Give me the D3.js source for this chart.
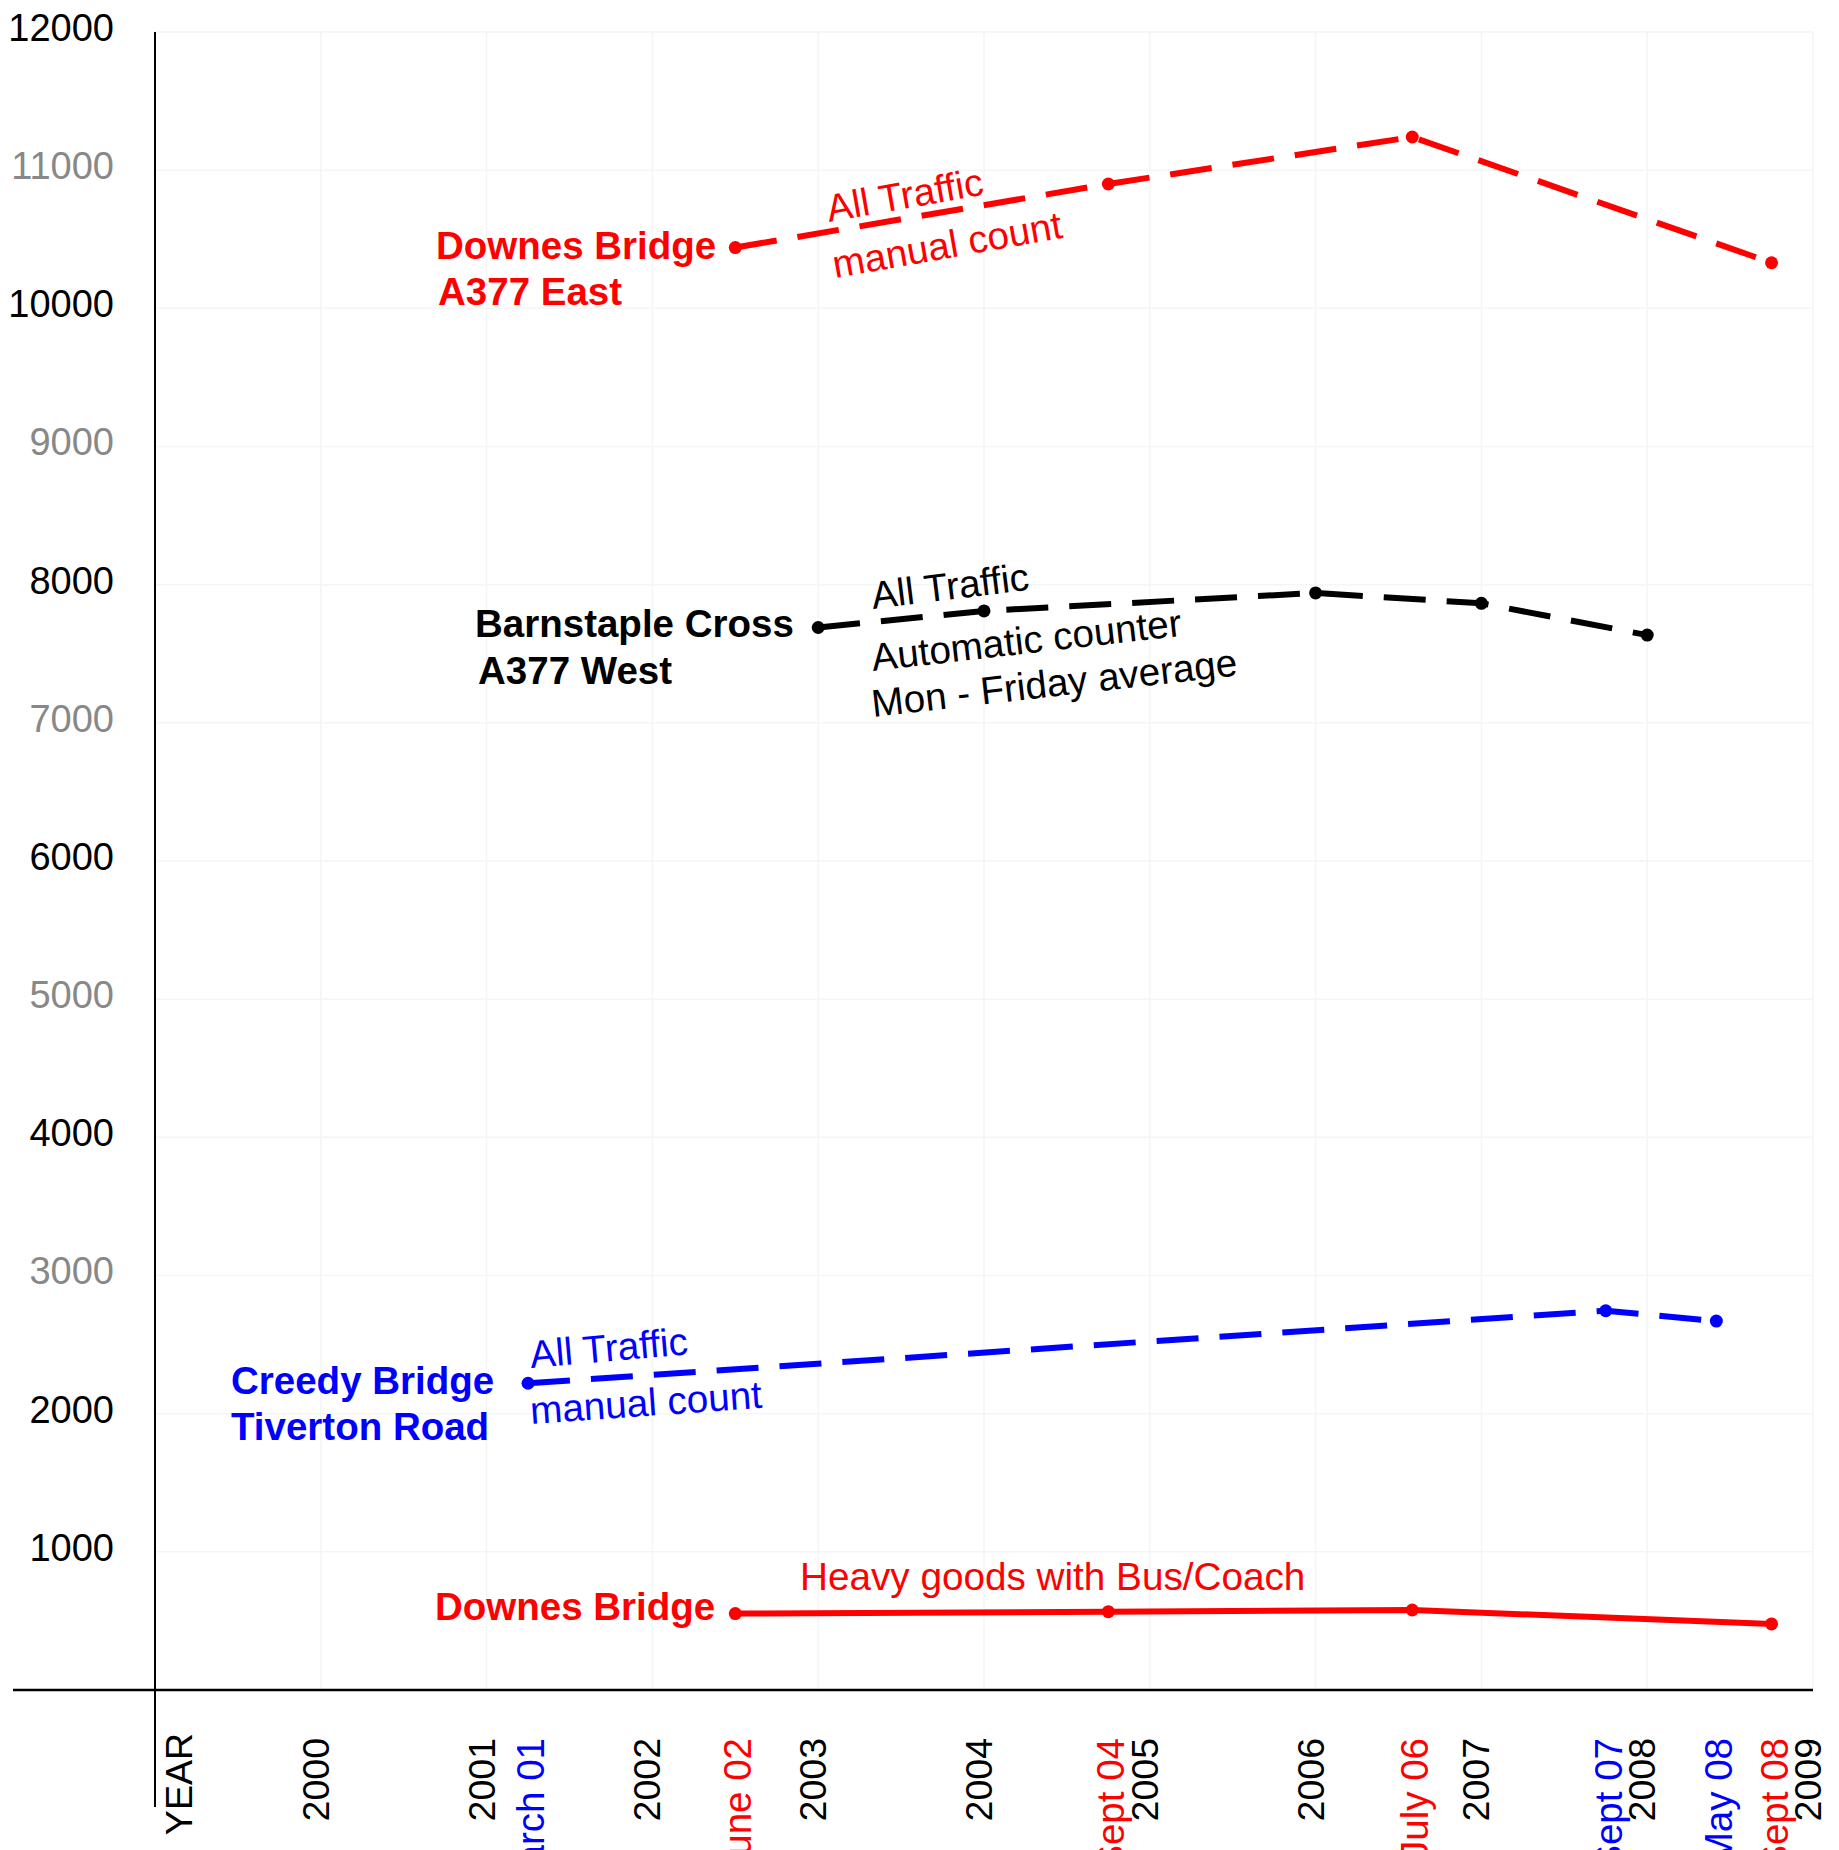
<!DOCTYPE html>
<html>
<head>
<meta charset="utf-8">
<script src="https://cdn.jsdelivr.net/npm/d3@7"></script>
<style>
html,body{margin:0;padding:0;background:#fff;overflow:hidden;}
text{font-family:Arial,"Liberation Sans",Helvetica,sans-serif;}
</style>
</head>
<body>
<svg id="chart" width="1839" height="1850"></svg>
<script>
// ---- data ----
const yearTicks = [2000, 2001, 2002, 2003, 2004, 2005, 2006, 2007, 2008, 2009];
const valueTicks = [1000, 2000, 3000, 4000, 5000, 6000, 7000, 8000, 9000, 10000, 11000, 12000];
const grayValueTicks = [3000, 5000, 7000, 9000, 11000];

// fractional year = year + month/12
const downesAllDates = [2002.5, 2004.75, 2006.583, 2008.75];
const downesAllValues = [10440, 10900, 11240, 10330];

const barnstapleDates = [2003, 2004, 2006, 2007, 2008];
const barnstapleValues = [7690, 7810, 7940, 7865, 7635];

const creedyDates = [2001.25, 2007.75, 2008.417];
const creedyValues = [2220, 2745, 2670];

const downesHeavyDates = [2002.5, 2004.75, 2006.583, 2008.75];
const downesHeavyValues = [553, 567, 579, 478];

const monthLabels = ["March 01", "June 02", "Sept 04", "July 06", "Sept 07", "May 08", "Sept 08"];
const monthDates = [2001.25, 2002.5, 2004.75, 2006.583, 2007.75, 2008.417, 2008.75];
const monthSeries = ["creedy", "downes", "downes", "downes", "creedy", "creedy", "downes"];

// ---- styles ----
const RED = "#ff0000", BLUE = "#0000ff", BLACK = "#000000";
const seriesColor = {downes: RED, creedy: BLUE, barnstaple: BLACK};

const svg = d3.select("#chart");
const x = d3.scaleLinear().domain([1999, 2009]).range([155, 1813]);
const y = d3.scaleLinear().domain([0, 12000]).range([1690, 32]);

// gridlines
const grid = svg.append("g");
grid.selectAll("line.h").data(valueTicks).join("line")
  .attr("x1", x(1999)).attr("x2", x(2009))
  .attr("y1", d => y(d)).attr("y2", d => y(d))
  .attr("stroke", "#f5f5f5").attr("stroke-width", 1.5);
grid.selectAll("line.v").data(yearTicks).join("line")
  .attr("x1", d => x(d)).attr("x2", d => x(d))
  .attr("y1", y(12000)).attr("y2", y(0))
  .attr("stroke", "#f5f5f5").attr("stroke-width", 1.5);

// y axis
const yAxis = d3.axisLeft(y).tickValues(valueTicks).tickSize(0).tickPadding(0).tickFormat(d3.format("d"));
const yg = svg.append("g").attr("transform", `translate(${x(1999)},0)`).call(yAxis);
yg.select(".domain").remove();
yg.selectAll(".tick text")
  .attr("x", -41).attr("dy", "0.22em")
  .attr("font-size", 38)
  .attr("font-family", "Arial, 'Liberation Sans', sans-serif")
  .attr("fill", d => grayValueTicks.includes(d) ? "#888888" : "#000000");

// axis lines
svg.append("line").attr("x1", x(1999)).attr("x2", x(1999)).attr("y1", y(12000)).attr("y2", 1807)
  .attr("stroke", "#000").attr("stroke-width", 2);
svg.append("line").attr("x1", 13).attr("x2", x(2009)).attr("y1", y(0)).attr("y2", y(0))
  .attr("stroke", "#000").attr("stroke-width", 2.5);

// x axis year labels
const xAxis = d3.axisBottom(x).tickValues(yearTicks).tickSize(0).tickFormat(d3.format("d"));
const xg = svg.append("g").attr("transform", `translate(0,${y(0)})`).call(xAxis);
xg.select(".domain").remove();
xg.selectAll(".tick text")
  .attr("transform", "rotate(-90)")
  .attr("x", -48).attr("y", 0).attr("dy", "0.2em")
  .attr("text-anchor", "end")
  .attr("font-size", 37.5)
  .attr("font-family", "Arial, 'Liberation Sans', sans-serif")
  .attr("fill", "#000");

// YEAR label
svg.append("text").attr("transform", `translate(${x(1999) + 37},1733) rotate(-90)`)
  .attr("text-anchor", "end").attr("font-size", 37.5).attr("fill", "#000").text("YEAR");

// month labels
svg.append("g").selectAll("text").data(monthLabels).join("text")
  .attr("transform", (d, i) => `translate(${x(monthDates[i]) + 16},${y(0) + 48}) rotate(-90)`)
  .attr("text-anchor", "end").attr("font-size", 38.5)
  .attr("fill", (d, i) => seriesColor[monthSeries[i]])
  .text(d => d);

// series
const line = d3.line().x(d => x(d[0])).y(d => y(d[1]));
function drawSeries(dates, values, color, dashed) {
  const pts = dates.map((d, i) => [d, values[i]]);
  svg.append("path").datum(pts).attr("d", line)
    .attr("fill", "none").attr("stroke", color).attr("stroke-width", 6)
    .attr("stroke-dasharray", dashed ? "42,21" : null)
    .attr("stroke-linejoin", "round");
  svg.append("g").selectAll("circle").data(pts).join("circle")
    .attr("cx", d => x(d[0])).attr("cy", d => y(d[1])).attr("r", 6.5).attr("fill", color);
}
drawSeries(downesAllDates, downesAllValues, RED, true);
drawSeries(barnstapleDates, barnstapleValues, BLACK, true);
drawSeries(creedyDates, creedyValues, BLUE, true);
drawSeries(downesHeavyDates, downesHeavyValues, RED, false);

// text labels
function label(txt, px, py, color, bold, rot) {
  svg.append("text")
    .attr("transform", `translate(${px},${py})` + (rot ? ` rotate(${rot})` : ""))
    .attr("font-size", bold ? 38.5 : 38.7).attr("font-weight", bold ? "bold" : "normal")
    .attr("fill", color).text(txt);
}
label("Downes Bridge", 436, 259, RED, true);
label("A377 East", 438, 305, RED, true);
label("All Traffic", 829, 222, RED, false, -10);
label("manual count", 835, 278, RED, false, -10);

label("Barnstaple Cross", 475, 637, BLACK, true);
label("A377 West", 478, 684, BLACK, true);
label("All Traffic", 873, 609, BLACK, false, -7);
label("Automatic counter", 873, 671, BLACK, false, -6.5);
label("Mon - Friday average", 873, 717, BLACK, false, -6.5);

label("Creedy Bridge", 231, 1394, BLUE, true);
label("Tiverton Road", 231, 1440, BLUE, true);
label("All Traffic", 531, 1368, BLUE, false, -5);
label("manual count", 531, 1424, BLUE, false, -4);

label("Downes Bridge", 435, 1620, RED, true);
label("Heavy goods with Bus/Coach", 800, 1590, RED, false);
</script>
</body>
</html>
